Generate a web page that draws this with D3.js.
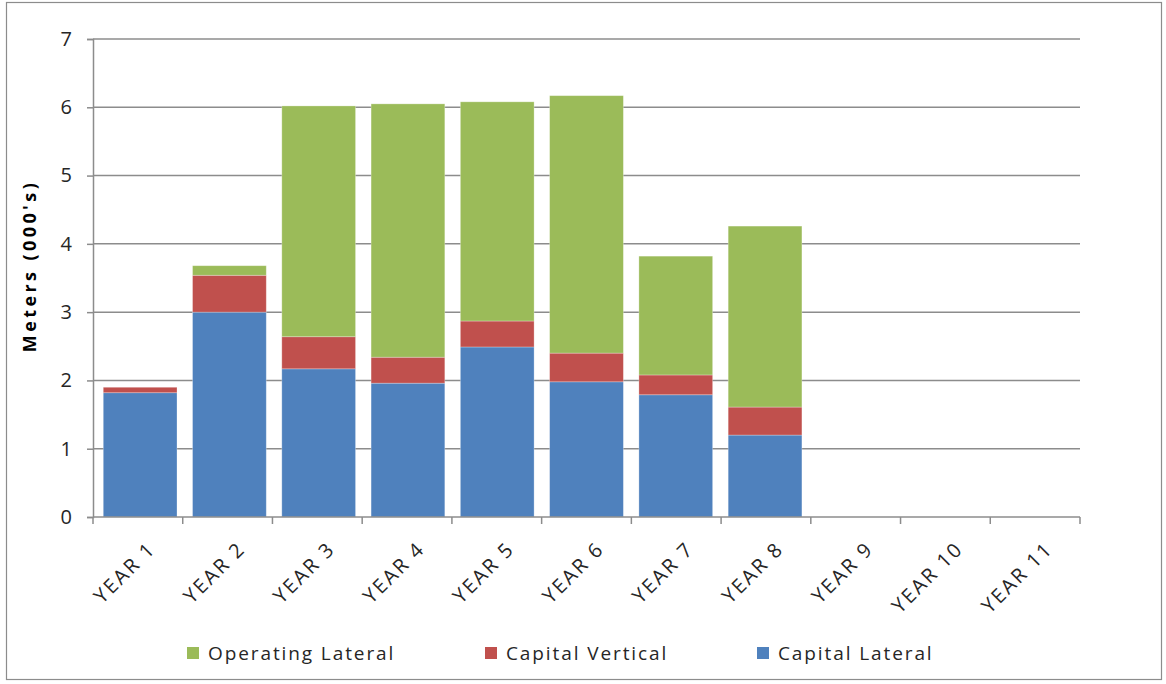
<!DOCTYPE html>
<html><head><meta charset="utf-8">
<script src="https://cdn.jsdelivr.net/npm/d3@7"></script>
<style>
html,body{margin:0;padding:0;background:#fff;}
svg{display:block;font-family:"Open Sans",Lato,sans-serif;}
</style></head>
<body>
<svg id="chart" width="1166" height="684"></svg>
<script>
const categories = ["YEAR 1","YEAR 2","YEAR 3","YEAR 4","YEAR 5","YEAR 6","YEAR 7","YEAR 8","YEAR 9","YEAR 10","YEAR 11"];
const capitalLateral   = [1.82, 3.00, 2.17, 1.96, 2.49, 1.98, 1.79, 1.20, 0, 0, 0];
const capitalVertical  = [0.08, 0.54, 0.47, 0.38, 0.38, 0.42, 0.29, 0.41, 0, 0, 0];
const operatingLateral = [0.00, 0.14, 3.38, 3.71, 3.21, 3.77, 1.74, 2.65, 0, 0, 0];
const yTicks = [0,1,2,3,4,5,6,7];
const seriesNames = ["Capital Lateral","Capital Vertical","Operating Lateral"];
const seriesColors = ["#4F81BD","#C0504D","#9BBB59"];
const legendOrder = ["Operating Lateral","Capital Vertical","Capital Lateral"];

const svg = d3.select("#chart");
const m = {left:93, right:1080, top:39, bottom:517};

// outer frame
svg.append("rect").attr("x",6.5).attr("y",2.5).attr("width",1155).attr("height",677)
  .attr("fill","#fff").attr("stroke","#8c8c8c").attr("stroke-width",1.2);

const x = d3.scaleBand().domain(categories).range([m.left,m.right]).paddingInner(0.174).paddingOuter(0.115);
const xb = d3.scaleBand().domain(categories).range([m.left,m.right]);
const y = d3.scaleLinear().domain([0,7]).range([m.bottom,m.top]);

// gridlines
svg.append("g").selectAll("line").data(yTicks.filter(d=>d>0)).join("line")
  .attr("x1",m.left).attr("x2",m.right).attr("y1",d=>y(d)).attr("y2",d=>y(d))
  .attr("stroke","#8c8c8c").attr("stroke-width",1.5);

// stacked data
const table = categories.map((c,i)=>({cat:c,"Capital Lateral":capitalLateral[i],"Capital Vertical":capitalVertical[i],"Operating Lateral":operatingLateral[i]}));
const stack = d3.stack().keys(seriesNames)(table);
const color = d3.scaleOrdinal().domain(seriesNames).range(seriesColors);

svg.append("g").selectAll("g").data(stack).join("g")
  .attr("fill",d=>color(d.key))
  .selectAll("rect").data(d=>d.filter(p=>p[1]-p[0]>0)).join("rect")
  .attr("x",d=>x(d.data.cat)).attr("width",x.bandwidth())
  .attr("y",d=>y(d[1])).attr("height",d=>y(d[0])-y(d[1]))
  .attr("stroke","#ffffff").attr("stroke-opacity",0.35).attr("stroke-width",0.8);

// y axis
const yAxis = d3.axisLeft(y).tickValues(yTicks).tickSize(6).tickPadding(15).tickFormat(d3.format("d"));
const gy = svg.append("g").attr("transform",`translate(${m.left},0)`).call(yAxis);
gy.select(".domain").attr("stroke","#8c8c8c").attr("stroke-width",1.5);
gy.selectAll(".tick line").attr("stroke","#8c8c8c").attr("stroke-width",1.5);
gy.selectAll("text").attr("font-size",20).attr("font-family","'Open Sans',sans-serif").attr("fill","#262626");

// x axis with ticks at band boundaries
const gx = svg.append("g");
gx.append("line").attr("x1",m.left).attr("x2",m.right).attr("y1",m.bottom).attr("y2",m.bottom)
  .attr("stroke","#8c8c8c").attr("stroke-width",1.5);
const bounds = categories.map(c=>xb(c)).concat([m.right]);
gx.selectAll("line.tk").data(bounds).join("line").attr("class","tk")
  .attr("x1",d=>d).attr("x2",d=>d).attr("y1",m.bottom).attr("y2",m.bottom+7)
  .attr("stroke","#8c8c8c").attr("stroke-width",1.5);
gx.selectAll("text").data(categories).join("text")
  .attr("transform",d=>`translate(${xb(d)+xb.bandwidth()/2+19},${m.bottom+33}) rotate(-45)`)
  .attr("text-anchor","end").attr("font-size",20).attr("letter-spacing",2.2).attr("fill","#262626")
  .text(d=>d);

// y-axis title
svg.append("text").attr("transform",`translate(36,266) rotate(-90)`)
  .attr("text-anchor","middle").attr("font-size",18).attr("font-weight","bold").attr("letter-spacing",3.4).attr("fill","#000")
  .text("Meters (000's)");

// legend
const legendX = [187,485,757];
const lg = svg.append("g").selectAll("g").data(legendOrder).join("g")
  .attr("transform",(d,i)=>`translate(${legendX[i]},647)`);
lg.append("rect").attr("width",12).attr("height",12).attr("fill",d=>color(d));
lg.append("text").attr("x",21).attr("y",13).attr("font-size",19).attr("letter-spacing",1.9).attr("fill","#262626").text(d=>d);
</script>
</body></html>
